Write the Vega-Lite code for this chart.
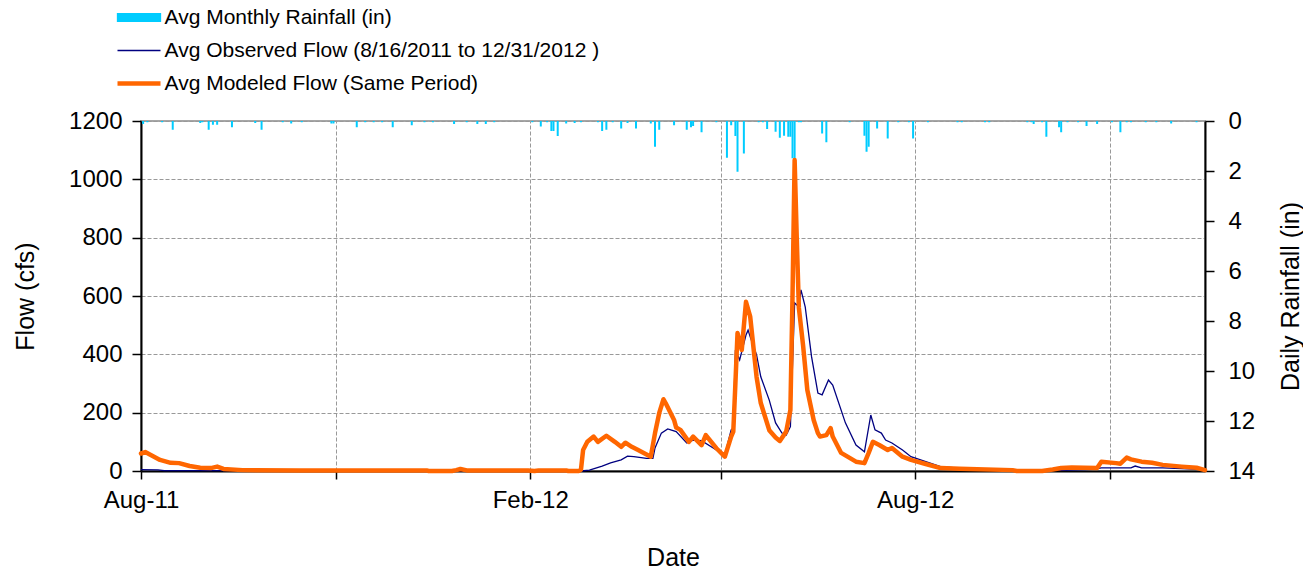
{
  "$schema": "https://vega.github.io/schema/vega-lite/v6.json",
  "width": 1064,
  "height": 350,
  "autosize": {"type": "none"},
  "padding": {"left": 141, "top": 121, "right": 98, "bottom": 100},
  "background": "white",
  "config": {
    "font": "Liberation Sans",
    "view": {"stroke": "#a6a6a6", "strokeWidth": 2},
    "axis": {
      "labelFont": "Liberation Sans", "titleFont": "Liberation Sans",
      "labelFontSize": 24, "titleFontSize": 25, "titleFontWeight": "normal",
      "labelColor": "#000", "titleColor": "#000",
      "domainColor": "#000", "tickColor": "#000", "domainWidth": 2,
      "tickWidth": 1.5, "tickSize": 9,
      "gridColor": "#999999", "gridDash": [4, 2], "gridWidth": 1
    },
    "legend": {
      "orient": "none", "legendX": -12.5, "legendY": -114,
      "symbolType": "M-4.3,0H4.3", "symbolSize": 100,
      "labelFont": "Liberation Sans", "labelFontSize": 21, "labelColor": "#000",
      "labelOffset": 15, "rowPadding": 11, "padding": 0, "labelLimit": 0
    }
  },
  "datasets": {
    "rain": [
      {"date": "2011-08-17", "rain": 0.12}, {"date": "2011-08-19", "rain": 0.05}, {"date": "2011-08-26", "rain": 0.05},
      {"date": "2011-08-31", "rain": 0.35}, {"date": "2011-09-13", "rain": 0.08}, {"date": "2011-09-14", "rain": 0.05},
      {"date": "2011-09-17", "rain": 0.35}, {"date": "2011-09-19", "rain": 0.15}, {"date": "2011-09-21", "rain": 0.15},
      {"date": "2011-09-28", "rain": 0.25}, {"date": "2011-10-09", "rain": 0.08}, {"date": "2011-10-12", "rain": 0.35},
      {"date": "2011-10-22", "rain": 0.05}, {"date": "2011-10-26", "rain": 0.1}, {"date": "2011-10-31", "rain": 0.05},
      {"date": "2011-11-14", "rain": 0.1}, {"date": "2011-11-15", "rain": 0.1}, {"date": "2011-11-26", "rain": 0.25},
      {"date": "2011-11-30", "rain": 0.05}, {"date": "2011-12-04", "rain": 0.05}, {"date": "2011-12-08", "rain": 0.05},
      {"date": "2011-12-13", "rain": 0.25}, {"date": "2011-12-22", "rain": 0.17}, {"date": "2011-12-28", "rain": 0.05},
      {"date": "2012-01-01", "rain": 0.05}, {"date": "2012-01-11", "rain": 0.12}, {"date": "2012-01-17", "rain": 0.05},
      {"date": "2012-01-22", "rain": 0.12}, {"date": "2012-01-26", "rain": 0.12}, {"date": "2012-01-30", "rain": 0.05},
      {"date": "2012-02-17", "rain": 0.05}, {"date": "2012-02-21", "rain": 0.22}, {"date": "2012-02-24", "rain": 0.05},
      {"date": "2012-02-26", "rain": 0.4}, {"date": "2012-02-27", "rain": 0.4}, {"date": "2012-02-29", "rain": 0.6},
      {"date": "2012-03-04", "rain": 0.1}, {"date": "2012-03-08", "rain": 0.08}, {"date": "2012-03-11", "rain": 0.05},
      {"date": "2012-03-19", "rain": 0.05}, {"date": "2012-03-21", "rain": 0.4}, {"date": "2012-03-23", "rain": 0.35},
      {"date": "2012-03-26", "rain": 0.05}, {"date": "2012-03-30", "rain": 0.3}, {"date": "2012-04-02", "rain": 0.08},
      {"date": "2012-04-06", "rain": 0.3}, {"date": "2012-04-13", "rain": 0.1}, {"date": "2012-04-15", "rain": 1.03},
      {"date": "2012-04-17", "rain": 0.35}, {"date": "2012-04-24", "rain": 0.17}, {"date": "2012-04-30", "rain": 0.35},
      {"date": "2012-05-02", "rain": 0.25}, {"date": "2012-05-03", "rain": 0.2}, {"date": "2012-05-07", "rain": 0.45},
      {"date": "2012-05-14", "rain": 0.05}, {"date": "2012-05-19", "rain": 1.47}, {"date": "2012-05-21", "rain": 0.17},
      {"date": "2012-05-23", "rain": 0.6}, {"date": "2012-05-24", "rain": 2.03}, {"date": "2012-05-27", "rain": 1.3},
      {"date": "2012-06-03", "rain": 0.05}, {"date": "2012-06-05", "rain": 0.05}, {"date": "2012-06-07", "rain": 0.32},
      {"date": "2012-06-11", "rain": 0.43}, {"date": "2012-06-13", "rain": 0.67}, {"date": "2012-06-15", "rain": 0.59},
      {"date": "2012-06-17", "rain": 0.63}, {"date": "2012-06-18", "rain": 0.63}, {"date": "2012-06-19", "rain": 1.49},
      {"date": "2012-06-20", "rain": 1.55}, {"date": "2012-06-22", "rain": 0.05}, {"date": "2012-06-23", "rain": 0.05},
      {"date": "2012-07-03", "rain": 0.5}, {"date": "2012-07-05", "rain": 0.85}, {"date": "2012-07-16", "rain": 0.05},
      {"date": "2012-07-23", "rain": 0.59}, {"date": "2012-07-24", "rain": 1.23}, {"date": "2012-07-25", "rain": 1.03},
      {"date": "2012-07-29", "rain": 0.3}, {"date": "2012-08-03", "rain": 0.7}, {"date": "2012-08-08", "rain": 0.05},
      {"date": "2012-08-13", "rain": 0.05}, {"date": "2012-08-15", "rain": 0.7}, {"date": "2012-08-22", "rain": 0.05},
      {"date": "2012-09-05", "rain": 0.05}, {"date": "2012-09-07", "rain": 0.05}, {"date": "2012-09-18", "rain": 0.05},
      {"date": "2012-09-20", "rain": 0.05}, {"date": "2012-10-08", "rain": 0.05}, {"date": "2012-10-10", "rain": 0.05},
      {"date": "2012-10-11", "rain": 0.12}, {"date": "2012-10-15", "rain": 0.05}, {"date": "2012-10-17", "rain": 0.63},
      {"date": "2012-10-23", "rain": 0.25}, {"date": "2012-10-24", "rain": 0.45}, {"date": "2012-10-27", "rain": 0.05},
      {"date": "2012-11-01", "rain": 0.05}, {"date": "2012-11-05", "rain": 0.2}, {"date": "2012-11-10", "rain": 0.12},
      {"date": "2012-11-17", "rain": 0.05}, {"date": "2012-11-21", "rain": 0.45}, {"date": "2012-11-24", "rain": 0.05},
      {"date": "2012-11-26", "rain": 0.05}, {"date": "2012-12-03", "rain": 0.05}, {"date": "2012-12-08", "rain": 0.05},
      {"date": "2012-12-15", "rain": 0.1}, {"date": "2012-12-27", "rain": 0.05}
    ],
    "observed": [
      {"date": "2011-08-16", "flow": 5}, {"date": "2011-08-24", "flow": 4}, {"date": "2011-08-27", "flow": 1},
      {"date": "2011-10-01", "flow": 1}, {"date": "2012-03-11", "flow": 0}, {"date": "2012-03-15", "flow": 3},
      {"date": "2012-03-21", "flow": 17}, {"date": "2012-03-25", "flow": 28}, {"date": "2012-03-30", "flow": 38},
      {"date": "2012-04-02", "flow": 51}, {"date": "2012-04-05", "flow": 49}, {"date": "2012-04-11", "flow": 43},
      {"date": "2012-04-14", "flow": 43}, {"date": "2012-04-15", "flow": 79}, {"date": "2012-04-18", "flow": 130},
      {"date": "2012-04-21", "flow": 144}, {"date": "2012-04-25", "flow": 135}, {"date": "2012-04-30", "flow": 96},
      {"date": "2012-05-03", "flow": 106}, {"date": "2012-05-07", "flow": 104}, {"date": "2012-05-14", "flow": 72},
      {"date": "2012-05-18", "flow": 55}, {"date": "2012-05-21", "flow": 141}, {"date": "2012-05-22", "flow": 147},
      {"date": "2012-05-23", "flow": 415}, {"date": "2012-05-25", "flow": 381}, {"date": "2012-05-28", "flow": 466},
      {"date": "2012-05-29", "flow": 483}, {"date": "2012-05-30", "flow": 460}, {"date": "2012-06-02", "flow": 398},
      {"date": "2012-06-04", "flow": 323}, {"date": "2012-06-08", "flow": 243}, {"date": "2012-06-11", "flow": 165},
      {"date": "2012-06-14", "flow": 130}, {"date": "2012-06-16", "flow": 123}, {"date": "2012-06-18", "flow": 152},
      {"date": "2012-06-20", "flow": 576}, {"date": "2012-06-22", "flow": 563}, {"date": "2012-06-23", "flow": 621},
      {"date": "2012-06-25", "flow": 563}, {"date": "2012-06-28", "flow": 392}, {"date": "2012-07-01", "flow": 267},
      {"date": "2012-07-03", "flow": 261}, {"date": "2012-07-06", "flow": 312}, {"date": "2012-07-08", "flow": 295},
      {"date": "2012-07-14", "flow": 165}, {"date": "2012-07-19", "flow": 89}, {"date": "2012-07-23", "flow": 66},
      {"date": "2012-07-26", "flow": 192}, {"date": "2012-07-28", "flow": 141}, {"date": "2012-07-31", "flow": 130},
      {"date": "2012-08-02", "flow": 106}, {"date": "2012-08-05", "flow": 96}, {"date": "2012-08-10", "flow": 72},
      {"date": "2012-08-14", "flow": 49}, {"date": "2012-08-21", "flow": 32}, {"date": "2012-08-28", "flow": 15},
      {"date": "2012-09-06", "flow": 10}, {"date": "2012-09-20", "flow": 4}, {"date": "2012-10-10", "flow": 1},
      {"date": "2012-10-24", "flow": 2}, {"date": "2012-11-08", "flow": 6}, {"date": "2012-11-12", "flow": 11},
      {"date": "2012-11-26", "flow": 11}, {"date": "2012-11-28", "flow": 17}, {"date": "2012-12-01", "flow": 11},
      {"date": "2012-12-11", "flow": 11}, {"date": "2012-12-20", "flow": 8}, {"date": "2012-12-31", "flow": 5}
    ],
    "modeled": [
      {"date": "2011-08-16", "flow": 60}, {"date": "2011-08-18", "flow": 65}, {"date": "2011-08-25", "flow": 38},
      {"date": "2011-08-30", "flow": 28}, {"date": "2011-09-03", "flow": 27}, {"date": "2011-09-08", "flow": 17},
      {"date": "2011-09-13", "flow": 11}, {"date": "2011-09-18", "flow": 10}, {"date": "2011-09-21", "flow": 15},
      {"date": "2011-09-24", "flow": 7}, {"date": "2011-10-03", "flow": 3}, {"date": "2011-10-30", "flow": 2},
      {"date": "2011-12-29", "flow": 2}, {"date": "2011-12-30", "flow": 0}, {"date": "2012-01-10", "flow": 0},
      {"date": "2012-01-12", "flow": 3}, {"date": "2012-01-14", "flow": 7}, {"date": "2012-01-17", "flow": 2},
      {"date": "2012-02-15", "flow": 2}, {"date": "2012-02-18", "flow": 0}, {"date": "2012-02-20", "flow": 2},
      {"date": "2012-03-04", "flow": 2}, {"date": "2012-03-05", "flow": 0}, {"date": "2012-03-10", "flow": 0},
      {"date": "2012-03-11", "flow": 5}, {"date": "2012-03-12", "flow": 72}, {"date": "2012-03-14", "flow": 100},
      {"date": "2012-03-17", "flow": 118}, {"date": "2012-03-19", "flow": 100}, {"date": "2012-03-23", "flow": 121},
      {"date": "2012-03-27", "flow": 100}, {"date": "2012-03-30", "flow": 83}, {"date": "2012-04-01", "flow": 97},
      {"date": "2012-04-04", "flow": 83}, {"date": "2012-04-07", "flow": 72}, {"date": "2012-04-13", "flow": 49},
      {"date": "2012-04-15", "flow": 130}, {"date": "2012-04-17", "flow": 199}, {"date": "2012-04-19", "flow": 246},
      {"date": "2012-04-20", "flow": 233}, {"date": "2012-04-24", "flow": 175}, {"date": "2012-04-25", "flow": 149},
      {"date": "2012-04-27", "flow": 141}, {"date": "2012-05-01", "flow": 100}, {"date": "2012-05-03", "flow": 118},
      {"date": "2012-05-07", "flow": 89}, {"date": "2012-05-09", "flow": 123}, {"date": "2012-05-14", "flow": 78},
      {"date": "2012-05-18", "flow": 49}, {"date": "2012-05-21", "flow": 118}, {"date": "2012-05-22", "flow": 135},
      {"date": "2012-05-23", "flow": 300}, {"date": "2012-05-24", "flow": 473}, {"date": "2012-05-26", "flow": 415},
      {"date": "2012-05-28", "flow": 580}, {"date": "2012-05-30", "flow": 529}, {"date": "2012-06-02", "flow": 323},
      {"date": "2012-06-04", "flow": 233}, {"date": "2012-06-08", "flow": 140}, {"date": "2012-06-11", "flow": 115},
      {"date": "2012-06-13", "flow": 103}, {"date": "2012-06-16", "flow": 135}, {"date": "2012-06-18", "flow": 209},
      {"date": "2012-06-19", "flow": 600}, {"date": "2012-06-20", "flow": 1066}, {"date": "2012-06-21", "flow": 800},
      {"date": "2012-06-22", "flow": 560}, {"date": "2012-06-24", "flow": 430}, {"date": "2012-06-26", "flow": 278},
      {"date": "2012-06-28", "flow": 209}, {"date": "2012-06-29", "flow": 175}, {"date": "2012-07-01", "flow": 130},
      {"date": "2012-07-02", "flow": 118}, {"date": "2012-07-05", "flow": 123}, {"date": "2012-07-07", "flow": 147},
      {"date": "2012-07-08", "flow": 118}, {"date": "2012-07-12", "flow": 62}, {"date": "2012-07-19", "flow": 32},
      {"date": "2012-07-23", "flow": 27}, {"date": "2012-07-25", "flow": 62}, {"date": "2012-07-27", "flow": 100},
      {"date": "2012-07-30", "flow": 89}, {"date": "2012-08-03", "flow": 72}, {"date": "2012-08-05", "flow": 79},
      {"date": "2012-08-10", "flow": 49}, {"date": "2012-08-14", "flow": 38}, {"date": "2012-08-21", "flow": 24},
      {"date": "2012-08-28", "flow": 10}, {"date": "2012-09-06", "flow": 8}, {"date": "2012-10-01", "flow": 3},
      {"date": "2012-10-03", "flow": 0}, {"date": "2012-10-15", "flow": 0}, {"date": "2012-10-20", "flow": 5},
      {"date": "2012-10-24", "flow": 10}, {"date": "2012-10-29", "flow": 12}, {"date": "2012-11-10", "flow": 10},
      {"date": "2012-11-12", "flow": 32}, {"date": "2012-11-19", "flow": 27}, {"date": "2012-11-21", "flow": 25},
      {"date": "2012-11-24", "flow": 46}, {"date": "2012-11-26", "flow": 40}, {"date": "2012-12-01", "flow": 32},
      {"date": "2012-12-06", "flow": 28}, {"date": "2012-12-11", "flow": 21}, {"date": "2012-12-20", "flow": 15},
      {"date": "2012-12-27", "flow": 11}, {"date": "2012-12-31", "flow": 3}
    ]
  },
  "encoding": {
    "x": {
      "field": "date", "type": "temporal",
      "scale": {"type": "utc", "padding": 0, "nice": false, "domain": [{"year": 2011, "month": 8, "date": 16, "utc": true}, {"year": 2012, "month": 12, "date": 31, "utc": true}]},
      "axis": {
        "title": "Date",
        "values": [
          {"year": 2011, "month": 8, "date": 16, "utc": true},
          {"year": 2011, "month": 11, "date": 16, "utc": true},
          {"year": 2012, "month": 2, "date": 16, "utc": true},
          {"year": 2012, "month": 5, "date": 16, "utc": true},
          {"year": 2012, "month": 8, "date": 16, "utc": true},
          {"year": 2012, "month": 11, "date": 16, "utc": true}
        ],
        "labelExpr": "(utcmonth(datum.value) == 7 || utcmonth(datum.value) == 1) ? utcFormat(datum.value, '%b-%y') : ''",
        "labelFlush": false, "labelOverlap": false, "labelAlign": "center",
        "grid": true, "tickSize": 8, "labelPadding": 9,
        "titleX": 532, "titleY": 86, "titleBaseline": "middle", "titleAlign": "center"
      }
    }
  },
  "layer": [
    {
      "data": {"name": "rain"},
      "mark": {"type": "bar", "width": 2},
      "encoding": {
        "y": {
          "field": "rain", "type": "quantitative",
          "scale": {"domain": [0, 14], "reverse": true, "nice": false},
          "axis": {
            "orient": "right", "title": "Daily Rainfall (in)", "values": [0, 2, 4, 6, 8, 10, 12, 14],
            "grid": false, "labelPadding": 14, "tickSize": 9,
            "titleAngle": 270, "titleX": 85, "titleY": 175, "titleBaseline": "middle", "titleAlign": "center"
          }
        },
        "color": {
          "datum": "Avg Monthly Rainfall (in)",
          "scale": {
            "domain": ["Avg Monthly Rainfall (in)", "Avg Observed Flow (8/16/2011 to 12/31/2012 )", "Avg Modeled Flow (Same Period)"],
            "range": ["#00ccff", "#000080", "#ff6600"]
          },
          "legend": {
            "title": null, "symbolType": "M-4.3,0H4.3",
            "encode": {
              "symbols": {
                "update": {
                  "shape": {"signal": "datum.value === 'Avg Monthly Rainfall (in)' ? 'M-4.3,-0.75H4.3V0.75H-4.3Z' : 'M-4.3,0H4.3'"},
                  "stroke": {"scale": "color", "field": "value"},
                  "fill": {"signal": "datum.value === 'Avg Monthly Rainfall (in)' ? '#00ccff' : 'transparent'"},
                  "opacity": {"value": 1},
                  "strokeCap": {"value": "butt"},
                  "strokeWidth": {"signal": "datum.value === 'Avg Modeled Flow (Same Period)' ? 4.5 : 1.3"}
                }
              }
            }
          }
        }
      }
    },
    {
      "encoding": {
        "y": {
          "field": "flow", "type": "quantitative",
          "scale": {"domain": [0, 1200], "nice": false},
          "axis": {
            "orient": "left", "title": "Flow (cfs)", "values": [0, 200, 400, 600, 800, 1000, 1200], "format": "d",
            "grid": true, "labelPadding": 10, "tickSize": 9,
            "titleAngle": 270, "titleX": -116, "titleY": 175, "titleBaseline": "middle", "titleAlign": "center"
          }
        }
      },
      "layer": [
        {
          "data": {"name": "observed"},
          "mark": {"type": "line", "strokeWidth": 1.3},
          "encoding": {
            "color": {
              "datum": "Avg Observed Flow (8/16/2011 to 12/31/2012 )",
              "scale": {
                "domain": ["Avg Monthly Rainfall (in)", "Avg Observed Flow (8/16/2011 to 12/31/2012 )", "Avg Modeled Flow (Same Period)"],
                "range": ["#00ccff", "#000080", "#ff6600"]
              }
            }
          }
        },
        {
          "data": {"name": "modeled"},
          "mark": {"type": "line", "strokeWidth": 4.5, "strokeJoin": "round", "strokeCap": "round"},
          "encoding": {
            "color": {
              "datum": "Avg Modeled Flow (Same Period)",
              "scale": {
                "domain": ["Avg Monthly Rainfall (in)", "Avg Observed Flow (8/16/2011 to 12/31/2012 )", "Avg Modeled Flow (Same Period)"],
                "range": ["#00ccff", "#000080", "#ff6600"]
              }
            }
          }
        }
      ]
    }
  ],
  "resolve": {"scale": {"y": "independent"}}
}
